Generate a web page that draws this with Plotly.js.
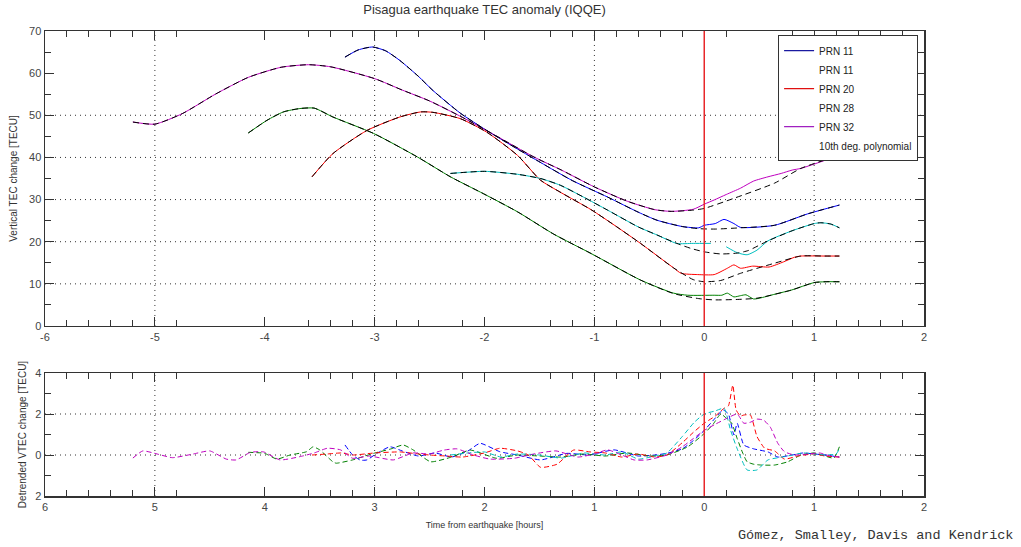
<!DOCTYPE html>
<html><head><meta charset="utf-8">
<script src="https://cdn.plot.ly/plotly-3.0.1.min.js"></script>
<style>html,body{margin:0;padding:0;background:#fff}#chart{width:1021px;height:547px}</style>
</head><body><div id="chart"></div>
<script>
// ---------- top panel: vertical TEC (data) ----------
const blueX  = [-3.27,-3.15,-3.02,-2.9,-2.77,-2.6,-2.47,-2.22,-1.98,-1.7,-1.49,-1.2,-0.88,-0.6,-0.43,-0.2,-0.05,0,0.1,0.18,0.27,0.33,0.64,0.94,1.23];
const blueY  = [63.8,65.5,66.2,65.3,63.0,59.2,55.9,50.5,46.4,42.0,38.8,34.5,30.6,27.0,25.1,23.6,23.3,23.9,24.3,25.3,24.3,23.4,23.9,26.6,28.7];
const greenX = [-4.15,-3.98,-3.83,-3.68,-3.55,-3.38,-3.01,-2.61,-2.31,-2.01,-1.7,-1.37,-1.03,-0.58,-0.28,-0.15,0.09,0.16,0.21,0.27,0.33,0.38,0.45,0.55,0.65,0.79,1.0,1.1,1.23];
const greenY = [45.8,48.8,50.8,51.6,51.7,49.6,45.7,40.1,35.4,31.4,27.1,21.8,17.2,10.9,7.8,7.3,7.3,7.3,7.8,6.9,7.2,7.4,6.4,6.9,7.6,8.5,10.3,10.5,10.5];
const redX   = [-3.57,-3.38,-3.07,-2.77,-2.58,-2.47,-2.22,-1.98,-1.7,-1.49,-1.3,-1.03,-0.8,-0.58,-0.28,-0.21,-0.06,0.09,0.21,0.27,0.33,0.44,0.59,0.72,0.82,0.88,1.09,1.23];
const redY   = [35.4,40.9,46.4,49.6,50.8,50.7,49.2,46.0,40.5,34.6,31.6,27.6,23.6,19.6,13.8,12.5,12.2,12.2,13.7,14.5,13.7,14.2,14.0,15.2,16.3,16.6,16.6,16.6];
const cyanX  = [-2.31,-2.0,-1.7,-1.49,-1.31,-1.1,-0.88,-0.6,-0.43,-0.25,-0.1,0.06,null,0.2,0.3,0.39,0.48,0.58,0.8,1.0,1.06,1.15,1.23];
const cyanY  = [36.2,36.7,36.0,35.0,33.4,30.6,27.5,23.5,21.6,19.6,19.6,19.6,null,18.8,17.4,16.9,18.0,20.2,22.6,24.3,24.5,24.2,23.3];
const magX   = [-5.2,-5.0,-4.75,-4.45,-4.15,-3.85,-3.6,-3.4,-3.0,-2.75,-2.5,-2.2,-1.9,-1.55,-1.3,-1.0,-0.7,-0.45,-0.3,-0.1,0,0.09,0.2,0.33,0.45,0.58,0.7,0.8,0.88,1.23];
const magY   = [48.4,47.9,50.4,55.0,59.0,61.4,62.0,61.5,58.7,56.0,53.4,49.5,45.2,40.1,37.0,33.0,29.6,27.6,27.2,27.7,28.9,29.9,31.2,32.7,34.4,35.4,36.2,37.0,37.4,40.5];

// ---------- top panel: 10th degree polynomial fits ----------
const fitBlueX  = [-3.27,-3.15,-3.02,-2.9,-2.77,-2.6,-2.47,-2.22,-1.98,-1.7,-1.49,-1.2,-0.88,-0.6,-0.43,-0.2,-0.05,0.1,0.33,0.64,0.94,1.23];
const fitBlueY  = [63.8,65.5,66.2,65.3,63.0,59.2,55.9,50.5,46.4,42.0,38.8,34.5,30.6,27.0,25.1,23.6,23.1,23.0,23.3,23.9,26.6,28.7];
const fitGreenX = [-4.15,-3.98,-3.83,-3.68,-3.55,-3.38,-3.01,-2.61,-2.31,-2.01,-1.7,-1.37,-1.03,-0.58,-0.28,-0.05,0.09,0.3,0.48,0.79,1.0,1.1,1.23];
const fitGreenY = [45.8,48.8,50.8,51.6,51.7,49.6,45.7,40.1,35.4,31.4,27.1,21.8,17.2,10.9,7.7,6.5,6.2,6.3,6.6,8.5,10.3,10.5,10.5];
const fitRedX   = [-3.57,-3.38,-3.07,-2.77,-2.58,-2.47,-2.22,-1.98,-1.7,-1.49,-1.3,-1.03,-0.8,-0.58,-0.28,-0.1,0,0.15,0.33,0.64,0.88,1.09,1.23];
const fitRedY   = [35.4,40.9,46.4,49.6,50.8,50.7,49.2,46.0,40.5,34.6,31.6,27.6,23.6,19.6,13.8,11.0,10.5,10.8,12.5,14.9,16.6,16.6,16.6];
const fitCyanX  = [-2.31,-2.0,-1.7,-1.49,-1.31,-1.1,-0.88,-0.6,-0.43,-0.25,-0.12,0.0,0.15,0.3,0.4,0.58,0.8,1.0,1.06,1.15,1.23];
const fitCyanY  = [36.2,36.7,36.0,35.0,33.4,30.6,27.5,23.5,21.6,19.6,18.4,17.6,17.1,17.3,17.9,20.2,22.6,24.3,24.5,24.2,23.3];
const fitMagX   = [-5.2,-5.0,-4.75,-4.45,-4.15,-3.85,-3.6,-3.4,-3.0,-2.75,-2.5,-2.2,-1.9,-1.55,-1.3,-1.0,-0.7,-0.45,-0.3,-0.1,0,0.27,0.64,0.88,1.23];
const fitMagY   = [48.4,47.9,50.4,55.0,59.0,61.4,62.0,61.5,58.7,56.0,53.4,49.5,45.2,40.1,37.0,33.0,29.6,27.6,27.2,27.5,27.9,30.3,33.9,37.4,40.5];

// ---------- bottom panel: detrended VTEC ----------
const dBlueX  = [-3.27,-3.2,-3.13,-3.07,-2.98,-2.86,-2.75,-2.6,-2.45,-2.3,-2.15,-2.04,-1.86,-1.7,-1.49,-1.25,-1.05,-0.82,-0.6,-0.45,-0.34,-0.2,-0.1,0,0.1,0.17,0.22,0.27,0.3,0.36,0.45,0.58,0.67,0.8,0.9,1.0,1.1,1.23];
const dBlueY  = [0.49,0.0,-0.25,-0.24,0.08,0.4,0.2,-0.05,0.1,-0.1,0.2,0.57,0.16,0.0,-0.24,0.08,0.0,0.25,-0.05,0.0,0.08,0.3,0.7,1.2,1.8,2.2,2.0,0.98,1.55,0.49,0.3,0.15,-0.1,0.0,0.1,0.05,0.0,-0.1];
const dGreenX = [-4.15,-4.0,-3.89,-3.77,-3.62,-3.56,-3.5,-3.38,-3.35,-3.2,-3.01,-2.85,-2.74,-2.65,-2.49,-2.3,-2.13,-1.89,-1.7,-1.5,-1.3,-1.1,-0.9,-0.7,-0.5,-0.34,-0.15,0,0.08,0.15,0.2,0.25,0.3,0.35,0.39,0.45,0.52,0.64,0.76,0.88,1.0,1.1,1.18,1.23];
const dGreenY = [0.13,0.08,-0.2,0.0,0.16,0.4,0.25,-0.33,-0.4,-0.24,0.08,0.3,0.49,0.25,-0.33,-0.1,0.24,-0.16,0.0,-0.05,-0.1,0.05,-0.05,0.1,-0.05,0.0,0.4,1.05,1.5,2.0,1.8,1.55,0.8,0.1,-0.33,-0.45,-0.49,-0.49,-0.33,0.0,0.1,-0.05,-0.15,0.4];
const dRedX   = [-3.57,-3.43,-3.3,-3.2,-3.0,-2.77,-2.6,-2.5,-2.35,-2.2,-2.0,-1.86,-1.7,-1.6,-1.49,-1.34,-1.19,-1.04,-0.9,-0.75,-0.6,-0.45,-0.34,-0.2,-0.1,0,0.1,0.18,0.22,0.26,0.29,0.33,0.36,0.42,0.48,0.55,0.64,0.73,0.85,1.0,1.1,1.23];
const dRedY   = [0.0,0.05,0.1,0.0,0.1,0.15,0.05,0.0,-0.05,-0.1,0.1,0.33,0.2,0.0,-0.6,-0.45,0.24,0.15,0.1,-0.1,0.05,-0.1,0.0,0.6,1.1,1.55,1.9,2.28,2.4,3.41,2.2,1.9,1.95,1.95,0.9,0.33,0.2,-0.2,-0.05,0.05,-0.05,-0.1];
const dCyanX  = [-2.31,-2.15,-2.0,-1.85,-1.7,-1.5,-1.3,-1.1,-0.9,-0.75,-0.6,-0.45,-0.34,-0.2,-0.09,0,0.1,0.18,0.24,0.3,0.39,0.48,0.58,0.73,0.9,1.0,1.1,1.2,1.23];
const dCyanY  = [0.0,0.1,0.15,-0.1,0.05,0.0,-0.15,0.1,0.0,0.15,-0.2,-0.05,0.1,0.9,1.6,2.0,2.15,2.28,1.2,0.3,-0.73,-0.73,-0.24,-0.08,0.1,0.05,0.0,0.05,0.3];
const dMagX   = [-5.2,-5.11,-4.98,-4.84,-4.65,-4.5,-4.35,-4.26,-4.13,-4.01,-3.86,-3.68,-3.55,-3.43,-3.31,-3.2,-3.05,-2.83,-2.65,-2.5,-2.37,-2.25,-2.1,-1.95,-1.73,-1.55,-1.35,-1.15,-1.0,-0.88,-0.75,-0.64,-0.52,-0.34,-0.2,-0.1,0,0.1,0.21,0.3,0.36,0.42,0.48,0.54,0.6,0.67,0.73,0.82,0.95,1.05,1.15,1.23];
const dMagY   = [-0.15,0.2,0.05,-0.13,0.05,0.2,-0.2,-0.24,0.13,0.15,-0.24,-0.08,0.1,0.33,0.25,-0.16,-0.05,-0.24,0.1,0.05,0.24,0.3,0.0,-0.2,-0.16,0.05,0.2,-0.1,0.05,0.25,0.0,-0.24,-0.24,0.0,0.4,0.8,1.2,1.5,1.8,2.0,1.55,1.6,1.75,1.7,1.37,0.57,0.16,0.0,0.05,0.1,-0.05,-0.1];

// ---------- labels ----------
const legendNames = ['PRN 11','PRN 11','PRN 20','PRN 28','PRN 32','10th deg. polynomial'];
const xTickVals = [-6,-5,-4,-3,-2,-1,0,1,2];
const xTickTextTop = ['-6','-5','-4','-3','-2','-1','0','1','2'];
const xTickTextBottom = ['6','5','4','3','2','1','0','1','2'];
const xMinorTicks = [-5.8,-5.6,-5.4,-5.2,-4.8,-3.6,-3.4,-3.2,-2.8,-2.6,-2.2,-1.4,-1.2,-0.8,-0.6,-0.4,-0.2,0.2,0.8,1.2,1.4,1.6,1.8];
const yTickValsBottom = [-2,0,2,4];
const yTickTextBottom = ['2','0','2','4'];
const gridTimes = [-5,-3,-1,1];
const gridTecTop = [10,20,30,40,50];
const gridTecBottom = [0,2];
const eventTime = 0;

const C = {blue:'#0000ff', green:'#008000', red:'#ff0000', cyan:'#00bfbf', mag:'#bf00bf'};
const traces = [];
function dataLine(x,y,color){return {x:x,y:y,type:'scatter',mode:'lines',xaxis:'x',yaxis:'y',showlegend:false,hoverinfo:'skip',line:{color:color,width:1,shape:'spline',smoothing:0.6},connectgaps:false};}
function fitLine(x,y){return {x:x,y:y,type:'scatter',mode:'lines',xaxis:'x',yaxis:'y',showlegend:false,hoverinfo:'skip',line:{color:'#000',width:1,dash:'6px,4px',shape:'spline',smoothing:0.6}};}
function detLine(x,y,color){return {x:x,y:y,type:'scatter',mode:'lines',xaxis:'x2',yaxis:'y2',showlegend:false,hoverinfo:'skip',line:{color:color,width:1,dash:'5px,3px',shape:'spline',smoothing:0.5}};}

traces.push(dataLine(blueX,blueY,C.blue), dataLine(greenX,greenY,C.green), dataLine(redX,redY,C.red), dataLine(cyanX,cyanY,C.cyan), dataLine(magX,magY,C.mag));
traces.push(fitLine(fitBlueX,fitBlueY), fitLine(fitGreenX,fitGreenY), fitLine(fitRedX,fitRedY), fitLine(fitCyanX,fitCyanY), fitLine(fitMagX,fitMagY));
traces.push(detLine(dBlueX,dBlueY,C.blue), detLine(dGreenX,dGreenY,C.green), detLine(dRedX,dRedY,C.red), detLine(dCyanX,dCyanY,C.cyan), detLine(dMagX,dMagY,C.mag));

// legend entries (swatches as they appear in the figure)
const legendColors = ['#1a1aa0','rgba(0,0,0,0)','#e01010','rgba(0,0,0,0)','#a020c0','rgba(0,0,0,0)'];
legendNames.forEach(function(n,i){
  traces.push({x:[null],y:[null],type:'scatter',mode:'lines',xaxis:'x',yaxis:'y',name:n,showlegend:true,hoverinfo:'skip',line:{color:legendColors[i],width:1.2}});
});

const shapes = [];
gridTimes.forEach(function(v){
  shapes.push({type:'line',xref:'x',yref:'y domain',x0:v,x1:v,y0:0,y1:1,layer:'below',line:{color:'#333',width:1,dash:'1px,4px'}});
  shapes.push({type:'line',xref:'x2',yref:'y2 domain',x0:v,x1:v,y0:0,y1:1,layer:'below',line:{color:'#333',width:1,dash:'1px,4px'}});
});
gridTecTop.forEach(function(v){
  shapes.push({type:'line',xref:'x domain',yref:'y',x0:0,x1:1,y0:v,y1:v,layer:'below',line:{color:'#333',width:1,dash:'1px,4px'}});
});
gridTecBottom.forEach(function(v){
  shapes.push({type:'line',xref:'x2 domain',yref:'y2',x0:0,x1:1,y0:v,y1:v,layer:'below',line:{color:'#333',width:1,dash:'1px,4px'}});
});
shapes.push({type:'line',xref:'x',yref:'y domain',x0:eventTime,x1:eventTime,y0:0,y1:1,layer:'above',line:{color:'#e8282b',width:1.5}});
shapes.push({type:'line',xref:'x2',yref:'y2 domain',x0:eventTime,x1:eventTime,y0:0,y1:1,layer:'above',line:{color:'#e8282b',width:1.5}});

const FONT = '"Liberation Sans", Arial, Helvetica, sans-serif';
const axisCommon = {showline:true, mirror:'ticks', linecolor:'#333', linewidth:1.5, zeroline:false, showgrid:false,
  ticks:'inside', ticklen:9, tickcolor:'#333', tickwidth:1, tickfont:{family:FONT,size:11,color:'#444'}};
const xMinor = {tickmode:'array', tickvals:xMinorTicks, ticks:'inside', ticklen:6, tickcolor:'#333', tickwidth:1, showgrid:false};

const layout = {
  width:1021, height:547,
  paper_bgcolor:'#fff', plot_bgcolor:'#fff',
  margin:{l:45, r:97, t:31, b:51},
  hovermode:false,
  font:{family:FONT, color:'#333'},
  title:{text:'Pisagua earthquake TEC anomaly (IQQE)', font:{family:FONT,size:13,color:'#333'}, x:0.5, xref:'paper', y:0.982, yref:'container', yanchor:'middle'},
  xaxis: Object.assign({}, axisCommon, {domain:[0,1], anchor:'y', range:[-6,2], tickmode:'array', tickvals:xTickVals, ticktext:xTickTextTop, minor:xMinor}),
  yaxis: Object.assign({}, axisCommon, {domain:[0.3656,1], anchor:'x', range:[0,70], tickmode:'array', tickvals:[0,10,20,30,40,50,60,70],
    minor:{dtick:5, ticks:'inside', ticklen:6, tickcolor:'#333', showgrid:false},
    title:{text:'Vertical TEC change [TECU]', font:{family:FONT,size:10,color:'#333'}, standoff:9}}),
  xaxis2: Object.assign({}, axisCommon, {domain:[0,1], anchor:'y2', range:[-6,2], tickmode:'array', tickvals:xTickVals, ticktext:xTickTextBottom, minor:xMinor,
    title:{text:'Time from earthquake [hours]', font:{family:FONT,size:9,color:'#333'}, standoff:10}}),
  yaxis2: Object.assign({}, axisCommon, {domain:[0,0.2645], anchor:'x2', range:[-2,4], tickmode:'array', tickvals:yTickValsBottom, ticktext:yTickTextBottom,
    minor:{dtick:1, ticks:'inside', ticklen:6, tickcolor:'#333', showgrid:false},
    title:{text:'Detrended VTEC change [TECU]', font:{family:FONT,size:10,color:'#333'}, standoff:6}}),
  legend:{x:0.834, y:0.991, xanchor:'left', yanchor:'top', bgcolor:'#fff', bordercolor:'#333', borderwidth:1,
    font:{family:FONT,size:10,color:'#222'}, traceorder:'normal', tracegroupgap:0},
  shapes:shapes,
  annotations:[{text:'Gómez, Smalley, Davis and Kendrick', xref:'paper', yref:'paper', x:1.1035, y:-0.084, xanchor:'right', yanchor:'middle',
    showarrow:false, font:{family:'"Liberation Mono", "DejaVu Sans Mono", monospace', size:13.5, color:'#333'}}]
};

Plotly.newPlot('chart', traces, layout, {staticPlot:true, displayModeBar:false});
</script></body></html>
